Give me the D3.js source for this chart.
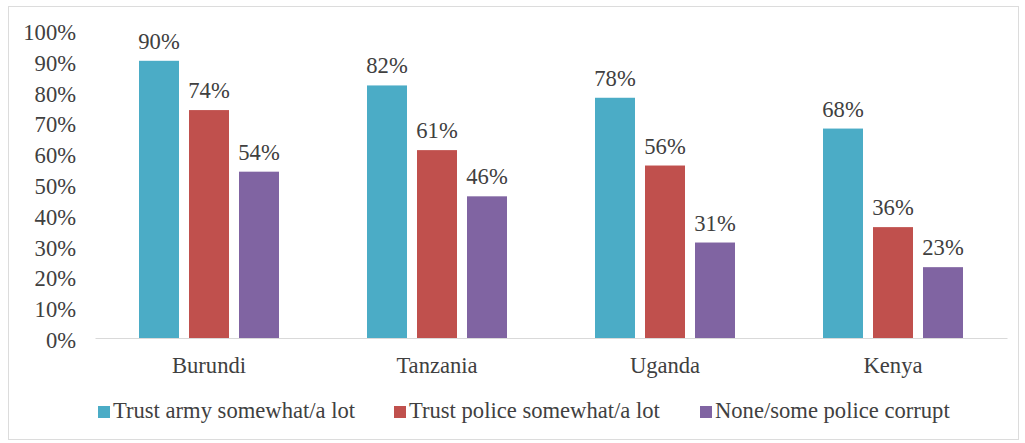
<!DOCTYPE html>
<html>
<head>
<meta charset="utf-8">
<script src="https://cdn.jsdelivr.net/npm/d3@7"></script>
<style>
  html, body { margin: 0; padding: 0; background: #fff; }
  svg { display: block; }
</style>
</head>
<body>
<svg id="chart" width="1025" height="443"></svg>
<script>
// Countries along the x axis
const countries = ["Burundi", "Tanzania", "Uganda", "Kenya"];
// Series names and their values (percent) per country
const seriesNames = ["Trust army somewhat/a lot", "Trust police somewhat/a lot", "None/some police corrupt"];
const trustArmy = [90, 82, 78, 68];
const trustPolice = [74, 61, 56, 36];
const policeNotCorrupt = [54, 46, 31, 23];
const yTicks = [0, 10, 20, 30, 40, 50, 60, 70, 80, 90, 100];

const seriesValues = [trustArmy, trustPolice, policeNotCorrupt];
const colors = ["#4BACC6", "#C0504D", "#8064A2"];
const FONT = "\"Liberation Serif\"";
const TEXT_COLOR = "#404040";
const FONT_SIZE = "22.6px";

const svg = d3.select("#chart");

function styleText(sel) {
  return sel.style("font-family", FONT).style("font-size", FONT_SIZE).style("fill", TEXT_COLOR);
}

// outer chart frame
svg.append("rect")
  .attr("x", 8.5).attr("y", 6.5)
  .attr("width", 1010).attr("height", 433)
  .attr("fill", "none").attr("stroke", "#dcdcdc").attr("stroke-width", 1);

const plot = { left: 95, right: 1007, top: 30, bottom: 338 };

const x = d3.scaleBand().domain(countries).range([plot.left, plot.right]);
const barW = 40, barGap = 10;
const xSeries = i => (x.bandwidth() - (3 * barW + 2 * barGap)) / 2 + i * (barW + barGap);
const y = d3.scaleLinear().domain([0, 100]).range([plot.bottom, plot.top]);

// y axis labels only (no axis line or ticks)
const yAxis = d3.axisLeft(y).tickValues(yTicks).tickFormat(d => d + "%").tickSize(0).tickPadding(0);
const gy = svg.append("g").attr("transform", `translate(${plot.left - 19},1.5)`).call(yAxis);
gy.attr("font-family", null).attr("font-size", null);
gy.select(".domain").remove();
styleText(gy.selectAll("text")).attr("dy", "0.35em");

// bars and value labels
countries.forEach((c, ci) => {
  seriesValues.forEach((vals, si) => {
    const v = vals[ci];
    const bx = x(c) + xSeries(si);
    svg.append("rect")
      .attr("x", bx).attr("y", y(v))
      .attr("width", barW).attr("height", y(0) - y(v))
      .attr("fill", colors[si]);
    styleText(svg.append("text"))
      .attr("x", bx + barW / 2).attr("y", y(v) - 12)
      .attr("text-anchor", "middle")
      .text(v + "%");
  });
});

// x axis baseline and category labels
const xAxis = d3.axisBottom(x).tickSize(0).tickPadding(0);
const gx = svg.append("g").attr("transform", `translate(0,${plot.bottom})`).call(xAxis);
gx.attr("font-family", null).attr("font-size", null);
gx.select(".domain").attr("stroke", "#d9d9d9").attr("stroke-width", 1.2);
styleText(gx.selectAll("text")).attr("y", 35).attr("dy", 0);

// legend
const legendX = [98, 394, 700];
const legend = svg.append("g");
seriesNames.forEach((name, i) => {
  legend.append("rect")
    .attr("x", legendX[i]).attr("y", 406)
    .attr("width", 12).attr("height", 12)
    .attr("fill", colors[i]);
  styleText(legend.append("text"))
    .attr("x", legendX[i] + 15).attr("y", 418)
    .text(name);
});
</script>
</body>
</html>
